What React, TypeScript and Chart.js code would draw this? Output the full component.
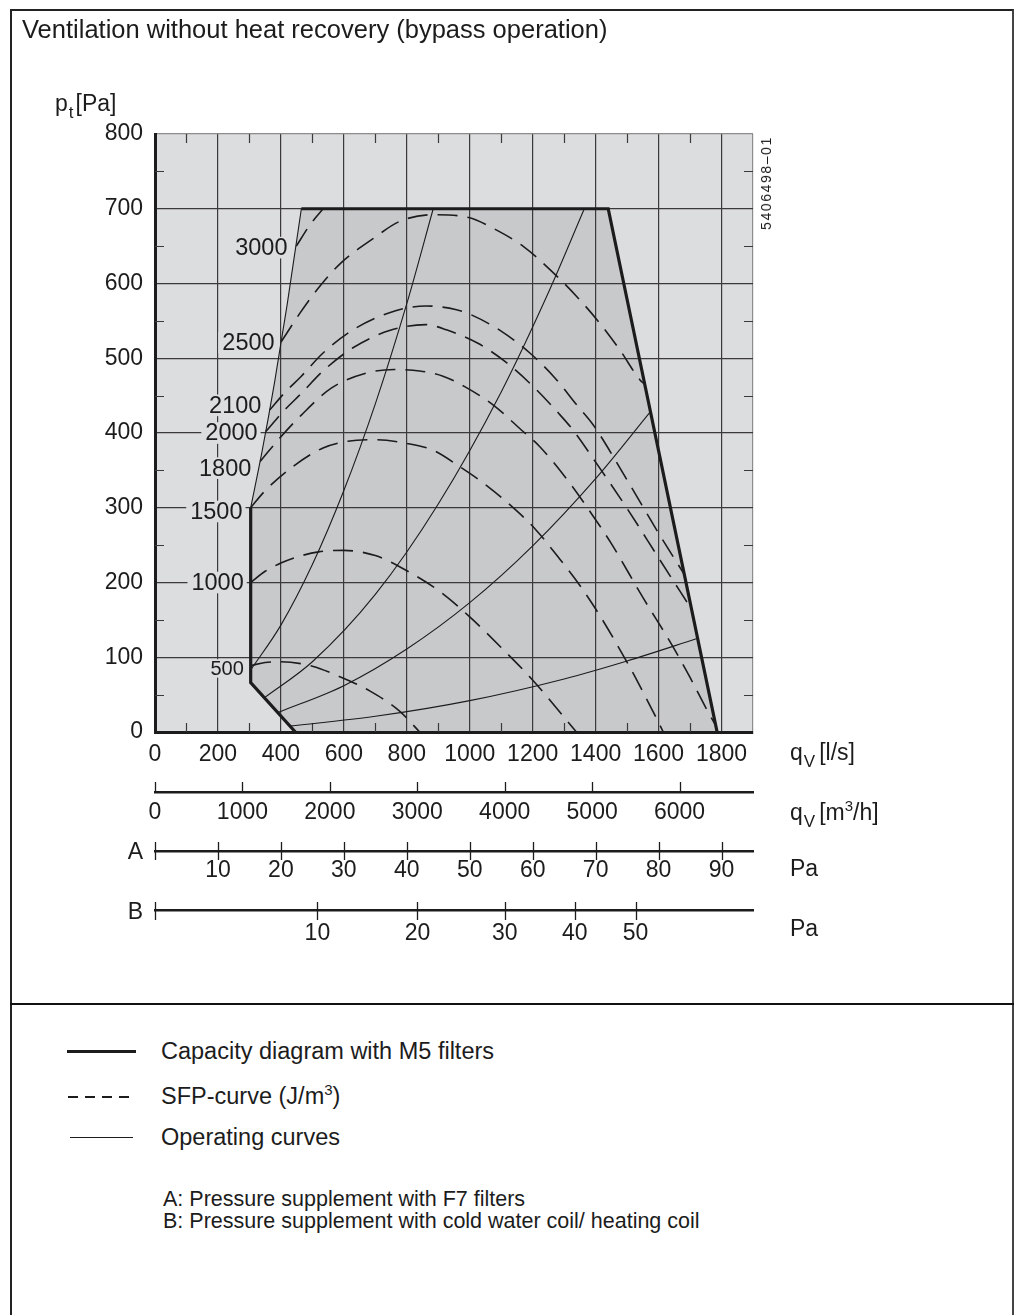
import React, { useEffect, useRef } from 'react';
import { Chart, registerables } from 'chart.js';

Chart.register(...registerables);

const FONT = "'Liberation Sans', Arial, Helvetica, sans-serif";
const INK = '#1c1c1c';
const PLOT_BG = '#dcdddf';
const SHADE = '#c8c9cb';
const GRID = '#3a3a3a';
const EDGE = '#8c8c8c';

// ---- axes ----
const Q_MIN = 0;
const Q_MAX = 1900;
const Q_TICKS = [0, 200, 400, 600, 800, 1000, 1200, 1400, 1600, 1800];
const Q_MINOR = [100, 300, 500, 700, 900, 1100, 1300, 1500, 1700];
const P_MIN = 0;
const P_MAX = 800;
const P_TICKS = [0, 100, 200, 300, 400, 500, 600, 700, 800];
const P_MINOR = [50, 150, 250, 350, 450, 550, 650, 750];
const M3H_MAX = 6840;
const M3H_TICKS = [0, 1000, 2000, 3000, 4000, 5000, 6000];
const A_MAX = 95;
const A_TICKS = [0, 10, 20, 30, 40, 50, 60, 70, 80, 90];
const B_TICK_Q = [0, 516, 834, 1111, 1334, 1527];
const B_TICK_LABELS = ['', '10', '20', '30', '40', '50'];
const M3H_AXIS_AT = -80;
const A_AXIS_AT = -159;
const B_AXIS_AT = -239;

// ---- capacity diagram (q [l/s], p [Pa]) ----
const CAPACITY_LOW = [[446, 0], [304, 66], [304, 300]];
const CAPACITY_HIGH = [[465, 700], [1440, 700], [1786, 0]];

// ---- operating curves ----
const OP_1 = [[304, 300], [340, 375], [380, 468], [420, 572], [465, 700]];
const OP_2 = [[304, 83], [400, 143], [500, 224], [600, 323], [700, 439], [800, 573], [884, 700]];
const OP_3 = [[348, 46], [500, 94], [700, 184], [900, 305], [1100, 455], [1250, 588], [1364, 700]];
const OP_4 = [[390, 26], [600, 62], [800, 111], [1000, 173], [1200, 249], [1400, 339], [1573, 428]];
const OP_5 = [[430, 8], [700, 21], [1000, 42], [1300, 71], [1500, 95], [1722, 125]];

// ---- SFP curves (J/m3) ----
const SFP_500 = [[306, 89], [350, 93], [400, 94], [500, 88], [587, 74], [682, 55], [777, 28], [841, 0]];
const SFP_1000 = [[304, 200], [350, 215], [400, 226], [450, 234], [520, 241], [600, 243], [700, 236], [777, 221], [905, 188], [1000, 154], [1100, 113], [1201, 69], [1339, 0]];
const SFP_1500 = [[304, 300], [348, 322], [438, 355], [534, 380], [613, 389], [700, 391], [800, 386], [883, 377], [968, 355], [1037, 335], [1122, 306], [1207, 272], [1281, 234], [1350, 196], [1413, 156], [1472, 114], [1525, 74], [1578, 31], [1615, 0]];
const SFP_1800 = [[334, 362], [400, 395], [465, 424], [560, 460], [671, 480], [760, 485], [841, 483], [915, 476], [984, 462], [1079, 436], [1164, 404], [1222, 382], [1318, 333], [1382, 295], [1450, 252], [1550, 180], [1646, 114], [1700, 73], [1757, 27], [1780, 10]];
const SFP_2000 = [[352, 402], [410, 430], [465, 453], [534, 483], [629, 514], [745, 537], [860, 545], [926, 538], [1026, 520], [1117, 494], [1207, 460], [1281, 427], [1328, 404], [1400, 361], [1500, 299], [1600, 233], [1702, 166]];
const SFP_2100 = [[365, 431], [410, 453], [465, 476], [534, 507], [629, 538], [745, 561], [860, 570], [958, 565], [1000, 559], [1101, 536], [1191, 507], [1270, 474], [1339, 438], [1392, 411], [1500, 337], [1600, 266], [1680, 212]];
const SFP_2500 = [[401, 522], [460, 560], [523, 596], [592, 628], [693, 660], [777, 683], [880, 692], [1000, 688], [1069, 675], [1169, 650], [1254, 619], [1339, 583], [1413, 547], [1477, 511], [1541, 471], [1556, 465]];
const SFP_3000 = [[449, 650], [490, 677], [534, 700]];

const SFP_LABELS = ['3000', '2500', '2100', '2000', '1800', '1500', '1000', '500'];
const SFP_LABEL_Q = [421, 380, 338, 326, 306, 278, 282, 282];
const SFP_LABEL_P = [648, 521, 437, 400, 353, 295, 200, 85];

const OPERATING = [OP_1, OP_2, OP_3, OP_4, OP_5];
const SFP = [SFP_500, SFP_1000, SFP_1500, SFP_1800, SFP_2000, SFP_2100, SFP_2500, SFP_3000];

const TICK_FONT = { family: FONT, size: 23, lineHeight: 1 };

const setTicks = (values: number[]) => (s: any) => {
  s.ticks = values.map((value) => ({ value }));
};

const diagramPlugin = {
  id: 'diagram',
  beforeDraw(chart: any) {
    const { ctx, chartArea: a, scales } = chart;
    const sx = scales.x;
    const sy = scales.y;
    ctx.save();
    ctx.fillStyle = PLOT_BG;
    ctx.fillRect(a.left, a.top, a.right - a.left, a.bottom - a.top);
    const poly = [...CAPACITY_LOW, ...OP_1.slice(1), ...CAPACITY_HIGH.slice(1)];
    ctx.beginPath();
    poly.forEach(([q, p], i) => {
      const X = sx.getPixelForValue(q);
      const Y = sy.getPixelForValue(p);
      if (i) ctx.lineTo(X, Y);
      else ctx.moveTo(X, Y);
    });
    ctx.closePath();
    ctx.fillStyle = SHADE;
    ctx.fill();
    ctx.restore();
  },
  beforeDatasetsDraw(chart: any) {
    const { ctx, chartArea: a, scales } = chart;
    const sx = scales.x;
    const sy = scales.y;
    ctx.save();
    ctx.strokeStyle = GRID;
    ctx.lineWidth = 1.2;
    ctx.beginPath();
    Q_MINOR.forEach((q) => {
      const X = Math.round(sx.getPixelForValue(q)) + 0.5;
      ctx.moveTo(X, a.top);
      ctx.lineTo(X, a.top + 9);
      ctx.moveTo(X, a.bottom);
      ctx.lineTo(X, a.bottom - 9);
    });
    P_MINOR.forEach((p) => {
      const Y = Math.round(sy.getPixelForValue(p)) + 0.5;
      ctx.moveTo(a.left, Y);
      ctx.lineTo(a.left + 9, Y);
      ctx.moveTo(a.right, Y);
      ctx.lineTo(a.right - 9, Y);
    });
    ctx.stroke();
    ctx.restore();
  },
  afterDatasetsDraw(chart: any) {
    const { ctx, scales } = chart;
    const sx = scales.x;
    const sy = scales.y;
    ctx.save();
    ctx.textAlign = 'right';
    ctx.textBaseline = 'middle';
    SFP_LABELS.forEach((txt, i) => {
      const size = txt === '500' ? 20 : 23.5;
      ctx.font = `${size}px ${FONT}`;
      const X = sx.getPixelForValue(SFP_LABEL_Q[i]);
      const Y = sy.getPixelForValue(SFP_LABEL_P[i]);
      const w = ctx.measureText(txt).width;
      ctx.fillStyle = PLOT_BG;
      ctx.fillRect(X - w - 4, Y - size * 0.46, w + 7, size * 0.92);
      ctx.fillStyle = INK;
      ctx.fillText(txt, X, Y + 1);
    });
    ctx.restore();
  },
  afterDraw(chart: any) {
    const { ctx, scales } = chart;
    const sy = scales.y;
    ctx.save();
    ctx.strokeStyle = INK;
    ctx.lineWidth = 1.3;
    ctx.beginPath();
    const m3 = scales.xm3;
    const ym3 = Math.round(sy.getPixelForValue(M3H_AXIS_AT));
    m3.ticks.forEach((t: any) => {
      const X = Math.round(m3.getPixelForValue(t.value)) + 0.5;
      ctx.moveTo(X, ym3 - 10);
      ctx.lineTo(X, ym3);
    });
    const sa = scales.xa;
    const ya = Math.round(sy.getPixelForValue(A_AXIS_AT));
    sa.ticks.forEach((t: any) => {
      const X = Math.round(sa.getPixelForValue(t.value)) + 0.5;
      ctx.moveTo(X, ya - 9);
      ctx.lineTo(X, ya + 9);
    });
    const sb = scales.xb;
    const yb = Math.round(sy.getPixelForValue(B_AXIS_AT));
    sb.ticks.forEach((t: any) => {
      const X = Math.round(sb.getPixelForValue(t.value)) + 0.5;
      ctx.moveTo(X, yb - 9);
      ctx.lineTo(X, yb + 9);
    });
    ctx.stroke();
    ctx.restore();
  },
};

function lineSet(pts: number[][], extra: any) {
  return {
    data: pts.map(([x, y]) => ({ x, y })),
    showLine: true,
    pointRadius: 0,
    borderColor: INK,
    backgroundColor: INK,
    fill: false,
    ...extra,
  };
}

function extraAxis(max: number, tickValues: number[], labels: (v: number, i: number) => string, at: number, pad: number) {
  return {
    axis: 'x',
    type: 'linear',
    min: 0,
    max,
    position: { y: at },
    grid: { display: false, drawTicks: false },
    border: { display: true, color: INK, width: 2.5 },
    afterBuildTicks: setTicks(tickValues),
    ticks: {
      autoSkip: false,
      maxRotation: 0,
      padding: pad,
      color: INK,
      font: TICK_FONT,
      callback: (v: number, i: number) => labels(v, i),
    },
  };
}

function ChartCanvas() {
  const ref = useRef<HTMLCanvasElement>(null);
  useEffect(() => {
    if (!ref.current) return;
    const chart = new Chart(ref.current, {
      type: 'scatter',
      data: {
        datasets: [
          lineSet(CAPACITY_LOW, { borderWidth: 3.2, tension: 0, borderJoinStyle: 'miter' }),
          lineSet(CAPACITY_HIGH, { borderWidth: 3.2, tension: 0, borderJoinStyle: 'miter' }),
          ...OPERATING.map((c) => lineSet(c, { borderWidth: 1.1, cubicInterpolationMode: 'monotone' })),
          ...SFP.map((c) => lineSet(c, { borderWidth: 1.6, borderDash: [20, 10], cubicInterpolationMode: 'monotone' })),
        ],
      } as any,
      options: {
        animation: false,
        responsive: false,
        events: [],
        layout: { padding: { left: 0, top: 134, right: 261, bottom: 188 } },
        plugins: { legend: { display: false }, tooltip: { enabled: false } },
        scales: {
          x: {
            type: 'linear',
            min: Q_MIN,
            max: Q_MAX,
            position: 'bottom',
            afterFit: (s: any) => { s.height = 40; },
            afterBuildTicks: setTicks([...Q_TICKS, Q_MAX]),
            grid: {
              drawTicks: false,
              lineWidth: 1.2,
              color: (c: any) => (c.tick && c.tick.value >= Q_MAX ? EDGE : GRID),
            },
            border: { color: INK, width: 3 },
            ticks: {
              autoSkip: false,
              maxRotation: 0,
              padding: 11,
              color: INK,
              font: TICK_FONT,
              callback: (v: number) => (Q_TICKS.includes(v) ? String(v) : ''),
            },
          },
          y: {
            type: 'linear',
            min: P_MIN,
            max: P_MAX,
            position: 'left',
            afterFit: (s: any) => { s.width = 155; },
            afterBuildTicks: setTicks(P_TICKS),
            grid: {
              drawTicks: false,
              lineWidth: 1.2,
              color: (c: any) => (c.tick && c.tick.value >= P_MAX ? EDGE : GRID),
            },
            border: { color: INK, width: 3 },
            ticks: {
              padding: 12,
              color: INK,
              font: TICK_FONT,
              callback: (v: number) => String(v),
            },
          },
          xm3: extraAxis(M3H_MAX, M3H_TICKS, (v) => String(v), M3H_AXIS_AT, 9),
          xa: extraAxis(A_MAX, A_TICKS, (v) => (v === 0 ? '' : String(v)), A_AXIS_AT, 8),
          xb: extraAxis(Q_MAX, B_TICK_Q, (_v, i) => B_TICK_LABELS[i] ?? '', B_AXIS_AT, 12),
        } as any,
      },
      plugins: [diagramPlugin],
    });
    return () => chart.destroy();
  }, []);
  return (
    <canvas
      ref={ref}
      width={1014}
      height={960}
      style={{ position: 'absolute', left: 0, top: 0, width: 1014, height: 960 }}
    />
  );
}

function T({ x, y, size = 23, align = 'left', children, style }: any) {
  const tx = align === 'right' ? 'translateX(-100%)' : align === 'center' ? 'translateX(-50%)' : undefined;
  return (
    <div
      style={{
        position: 'absolute',
        left: x,
        top: y - 0.488 * size,
        fontSize: size,
        lineHeight: 1,
        whiteSpace: 'nowrap',
        transform: tx,
        ...style,
      }}
    >
      {children}
    </div>
  );
}

const sub = (s: string) => (
  <span style={{ fontSize: 17, position: 'relative', top: 7, marginLeft: 1 }}>{s}</span>
);
const sup = (s: string) => (
  <span style={{ fontSize: 15, position: 'relative', top: -9 }}>{s}</span>
);

export default function App() {
  return (
    <div
      style={{
        position: 'absolute',
        left: 0,
        top: 0,
        width: 1014,
        height: 1315,
        background: '#ffffff',
        fontFamily: FONT,
        color: INK,
        overflow: 'hidden',
      }}
    >
      <div
        style={{
          position: 'absolute',
          left: 10,
          top: 9,
          width: 1004,
          height: 1306,
          boxSizing: 'border-box',
          borderLeft: '2px solid #222',
          borderTop: '2px solid #222',
          borderRight: '2px solid #444',
        }}
      />
      <div style={{ position: 'absolute', left: 10, top: 1003, width: 1004, height: 2, background: '#111' }} />
      <ChartCanvas />
      <T x={22} y={29} size={25.5}>Ventilation without heat recovery (bypass operation)</T>
      <T x={55} y={103}>
        p{sub('t')}<span style={{ marginLeft: 2 }}>[Pa]</span>
      </T>
      <T x={790} y={752}>
        q{sub('V')}<span style={{ marginLeft: 4 }}>[l/s]</span>
      </T>
      <T x={790} y={812}>
        q{sub('V')}<span style={{ marginLeft: 4 }}>[m{sup('3')}/h]</span>
      </T>
      <T x={790} y={868}>Pa</T>
      <T x={790} y={928}>Pa</T>
      <T x={143} y={851.5} align="right">A</T>
      <T x={143} y={911.5} align="right">B</T>
      <div
        style={{
          position: 'absolute',
          left: 766,
          top: 183,
          transform: 'translate(-50%, -50%) rotate(-90deg)',
          fontSize: 14,
          letterSpacing: 1.6,
          lineHeight: 1,
          whiteSpace: 'nowrap',
        }}
      >
        5406498–01
      </div>
      <div style={{ position: 'absolute', left: 67, top: 1050, width: 69, height: 3, background: INK }} />
      <div
        style={{
          position: 'absolute',
          left: 68,
          top: 1096,
          width: 68,
          height: 1.5,
          background: `repeating-linear-gradient(to right, ${INK} 0 10px, transparent 10px 17px)`,
        }}
      />
      <div style={{ position: 'absolute', left: 70, top: 1137, width: 63, height: 1, background: INK }} />
      <T x={161} y={1051} size={23.5}>Capacity diagram with M5 filters</T>
      <T x={161} y={1096} size={23.5}>
        SFP-curve (J/m{sup('3')})
      </T>
      <T x={161} y={1137} size={23.5}>Operating curves</T>
      <T x={163} y={1199} size={21.5}>A: Pressure supplement with F7 filters</T>
      <T x={163} y={1221} size={21.5}>B: Pressure supplement with cold water coil/ heating coil</T>
    </div>
  );
}
